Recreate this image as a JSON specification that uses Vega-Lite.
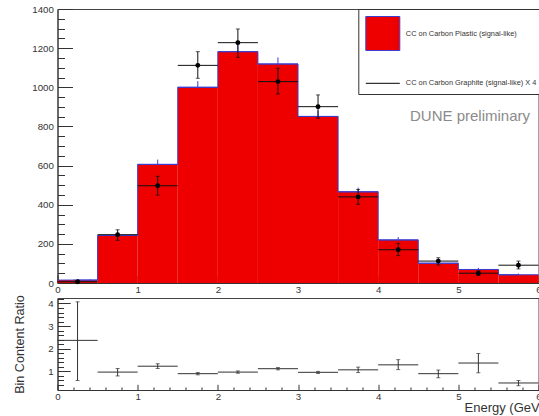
{
  "$schema": "https://vega.github.io/schema/vega-lite/v6.json",
  "autosize": {"type": "none"},
  "padding": {"left": 57.5, "top": 9, "right": 0, "bottom": 407},
  "spacing": 15,
  "bounds": "flush",
  "datasets": {
    "hist": [
      {"lo": 0, "hi": 0.5, "c": 0.25, "n": 15, "nhi": 19, "label": "CC on Carbon Plastic (signal-like)"},
      {"lo": 0.5, "hi": 1, "c": 0.75, "n": 243, "nhi": 258.6, "label": "CC on Carbon Plastic (signal-like)"},
      {"lo": 1, "hi": 1.5, "c": 1.25, "n": 606, "nhi": 630.6, "label": "CC on Carbon Plastic (signal-like)"},
      {"lo": 1.5, "hi": 2, "c": 1.75, "n": 1000, "nhi": 1031.6, "label": "CC on Carbon Plastic (signal-like)"},
      {"lo": 2, "hi": 2.5, "c": 2.25, "n": 1182, "nhi": 1216.4, "label": "CC on Carbon Plastic (signal-like)"},
      {"lo": 2.5, "hi": 3, "c": 2.75, "n": 1119, "nhi": 1152.5, "label": "CC on Carbon Plastic (signal-like)"},
      {"lo": 3, "hi": 3.5, "c": 3.25, "n": 851, "nhi": 880.2, "label": "CC on Carbon Plastic (signal-like)"},
      {"lo": 3.5, "hi": 4, "c": 3.75, "n": 466, "nhi": 487.6, "label": "CC on Carbon Plastic (signal-like)"},
      {"lo": 4, "hi": 4.5, "c": 4.25, "n": 220, "nhi": 234.8, "label": "CC on Carbon Plastic (signal-like)"},
      {"lo": 4.5, "hi": 5, "c": 4.75, "n": 101, "nhi": 111, "label": "CC on Carbon Plastic (signal-like)"},
      {"lo": 5, "hi": 5.5, "c": 5.25, "n": 69, "nhi": 77.3, "label": "CC on Carbon Plastic (signal-like)"},
      {"lo": 5.5, "hi": 6, "c": 5.75, "n": 42, "nhi": 48.5, "label": "CC on Carbon Plastic (signal-like)"}
    ],
    "graphite": [
      {"lo": 0, "hi": 0.5, "c": 0.25, "v": 6.5, "vlo": 1, "vhi": 12},
      {"lo": 0.5, "hi": 1, "c": 0.75, "v": 247, "vlo": 218, "vhi": 272},
      {"lo": 1, "hi": 1.5, "c": 1.25, "v": 497, "vlo": 449, "vhi": 545},
      {"lo": 1.5, "hi": 2, "c": 1.75, "v": 1112, "vlo": 1046, "vhi": 1182},
      {"lo": 2, "hi": 2.5, "c": 2.25, "v": 1228, "vlo": 1153, "vhi": 1298},
      {"lo": 2.5, "hi": 3, "c": 2.75, "v": 1029, "vlo": 966, "vhi": 1097},
      {"lo": 3, "hi": 3.5, "c": 3.25, "v": 901, "vlo": 842, "vhi": 961},
      {"lo": 3.5, "hi": 4, "c": 3.75, "v": 440, "vlo": 402, "vhi": 478},
      {"lo": 4, "hi": 4.5, "c": 4.25, "v": 170, "vlo": 140, "vhi": 203},
      {"lo": 4.5, "hi": 5, "c": 4.75, "v": 112, "vlo": 92, "vhi": 129},
      {"lo": 5, "hi": 5.5, "c": 5.25, "v": 50, "vlo": 38, "vhi": 62},
      {"lo": 5.5, "hi": 6, "c": 5.75, "v": 91, "vlo": 72, "vhi": 112}
    ],
    "ratio": [
      {"lo": 0, "hi": 0.5, "c": 0.25, "r": 2.37, "rlo": 0.6, "rhi": 4.07},
      {"lo": 0.5, "hi": 1, "c": 0.75, "r": 0.97, "rlo": 0.8, "rhi": 1.13},
      {"lo": 1, "hi": 1.5, "c": 1.25, "r": 1.23, "rlo": 1.13, "rhi": 1.34},
      {"lo": 1.5, "hi": 2, "c": 1.75, "r": 0.9, "rlo": 0.85, "rhi": 0.95},
      {"lo": 2, "hi": 2.5, "c": 2.25, "r": 0.97, "rlo": 0.92, "rhi": 1.02},
      {"lo": 2.5, "hi": 3, "c": 2.75, "r": 1.12, "rlo": 1.07, "rhi": 1.17},
      {"lo": 3, "hi": 3.5, "c": 3.25, "r": 0.96, "rlo": 0.91, "rhi": 1.0},
      {"lo": 3.5, "hi": 4, "c": 3.75, "r": 1.07, "rlo": 0.95, "rhi": 1.19},
      {"lo": 4, "hi": 4.5, "c": 4.25, "r": 1.29, "rlo": 1.08, "rhi": 1.52},
      {"lo": 4.5, "hi": 5, "c": 4.75, "r": 0.9, "rlo": 0.72, "rhi": 1.06},
      {"lo": 5, "hi": 5.5, "c": 5.25, "r": 1.37, "rlo": 0.94, "rhi": 1.79},
      {"lo": 5.5, "hi": 6, "c": 5.75, "r": 0.49, "rlo": 0.37, "rhi": 0.6}
    ],
    "notes": [
      {"note": "DUNE preliminary"}
    ]
  },
  "vconcat": [
    {
      "width": 481,
      "height": 274,
      "resolve": {"axis": {"x": "independent", "y": "independent"}},
      "layer": [
        {
          "data": {"name": "hist"},
          "mark": {"type": "bar", "strokeWidth": 0},
          "encoding": {
            "x": {"field": "lo", "type": "quantitative", "scale": {"domain": [0, 6], "nice": false, "zero": false},
                  "axis": {"orient": "bottom", "values": [0, 1, 2, 3, 4, 5, 6], "tickSize": -8, "labelPadding": 9.5, "title": null, "format": "d", "labelFlush": false}},
            "x2": {"field": "hi"},
            "y": {"field": "n", "type": "quantitative", "scale": {"domain": [0, 1400], "nice": false},
                  "axis": {"orient": "left", "values": [0, 200, 400, 600, 800, 1000, 1200, 1400], "tickSize": -15, "labelPadding": 19.2, "title": null, "format": "d", "labelFlush": false}},
            "y2": {"datum": 0},
            "color": {"field": "label", "type": "nominal",
                      "scale": {"domain": ["CC on Carbon Plastic (signal-like)", "CC on Carbon Graphite (signal-like) X 4"], "range": ["#ee0000", "#000000"]},
                      "legend": {"orient": "none", "legendX": 300.8, "legendY": 0, "title": null, "padding": 7, "strokeColor": "#333", "fillColor": "white",
                                 "symbolSize": 1156, "rowPadding": 12.8, "labelOffset": 5.5, "labelFontSize": 7.4, "labelFont": "Liberation Sans", "labelColor": "#333", "labelLimit": 300,
                                 "direction": "vertical", "symbolStrokeWidth": 1,
                                 "encode": {"symbols": {"update": {
                                   "shape": {"signal": "datum.value === 'CC on Carbon Plastic (signal-like)' ? 'square' : 'stroke'"},
                                   "fill": {"signal": "datum.value === 'CC on Carbon Plastic (signal-like)' ? '#ee0000' : 'transparent'"},
                                   "stroke": {"signal": "datum.value === 'CC on Carbon Plastic (signal-like)' ? '#3c3cd0' : '#000000'"},
                                   "strokeWidth": {"value": 1},
                                   "opacity": {"value": 1}
                                 }}}}}
          }
        },
        {
          "data": {"name": "hist"},
          "mark": {"type": "rule", "color": "#3c3cd0", "strokeWidth": 1},
          "encoding": {
            "x": {"field": "lo", "type": "quantitative", "axis": {"orient": "bottom", "values": [0.2,0.4,0.6,0.8,1.2,1.4,1.6,1.8,2.2,2.4,2.6,2.8,3.2,3.4,3.6,3.8,4.2,4.4,4.6,4.8,5.2,5.4,5.6,5.8], "tickSize": -4, "labels": false, "domain": false, "title": null}},
            "x2": {"field": "hi"},
            "y": {"field": "n", "type": "quantitative", "axis": {"orient": "left", "values": [50,100,150,250,300,350,450,500,550,650,700,750,850,900,950,1050,1100,1150,1250,1300,1350], "tickSize": -7, "labels": false, "domain": false, "title": null}}
          }
        },
        {
          "data": {"name": "hist"},
          "mark": {"type": "line", "interpolate": "step", "color": "#3c3cd0", "strokeWidth": 1},
          "encoding": {
            "x": {"field": "c", "type": "quantitative", "axis": null},
            "y": {"field": "n", "type": "quantitative", "axis": null}
          }
        },
        {
          "data": {"name": "hist"},
          "mark": {"type": "rule", "color": "#3c3cd0", "strokeWidth": 1},
          "encoding": {
            "x": {"field": "c", "type": "quantitative", "axis": null},
            "y": {"field": "n", "type": "quantitative", "axis": null},
            "y2": {"field": "nhi"}
          }
        },
        {
          "data": {"name": "graphite"},
          "mark": {"type": "rule", "color": "#111", "strokeWidth": 1},
          "encoding": {
            "x": {"field": "lo", "type": "quantitative", "axis": null},
            "x2": {"field": "hi"},
            "y": {"field": "v", "type": "quantitative", "axis": null}
          }
        },
        {
          "data": {"name": "graphite"},
          "mark": {"type": "rule", "color": "#111", "strokeWidth": 1},
          "encoding": {
            "x": {"field": "c", "type": "quantitative", "axis": null},
            "y": {"field": "vlo", "type": "quantitative", "axis": null},
            "y2": {"field": "vhi"}
          }
        },
        {
          "data": {"name": "graphite"},
          "mark": {"type": "tick", "orient": "horizontal", "color": "#111", "size": 4, "thickness": 1},
          "encoding": {
            "x": {"field": "c", "type": "quantitative", "axis": null},
            "y": {"field": "vlo", "type": "quantitative", "axis": null}
          }
        },
        {
          "data": {"name": "graphite"},
          "mark": {"type": "tick", "orient": "horizontal", "color": "#111", "size": 4, "thickness": 1},
          "encoding": {
            "x": {"field": "c", "type": "quantitative", "axis": null},
            "y": {"field": "vhi", "type": "quantitative", "axis": null}
          }
        },
        {
          "data": {"name": "graphite"},
          "mark": {"type": "point", "filled": true, "shape": "circle", "color": "#000", "size": 24, "opacity": 1},
          "encoding": {
            "x": {"field": "c", "type": "quantitative", "axis": null},
            "y": {"field": "v", "type": "quantitative", "axis": null}
          }
        },
        {
          "data": {"name": "notes"},
          "mark": {"type": "text", "align": "right", "baseline": "middle", "dx": -8.5, "fontSize": 15, "font": "Liberation Sans", "color": "#8a8a8a"},
          "encoding": {
            "x": {"datum": 6, "type": "quantitative", "axis": null},
            "y": {"datum": 853, "type": "quantitative", "axis": null},
            "text": {"field": "note"}
          }
        }
      ]
    },
    {
      "width": 481,
      "height": 92,
      "resolve": {"axis": {"x": "independent", "y": "independent"}},
      "data": {"name": "ratio"},
      "layer": [
        {
          "mark": {"type": "rule", "color": "#333", "strokeWidth": 1},
          "encoding": {
            "x": {"field": "lo", "type": "quantitative", "scale": {"domain": [0, 6], "nice": false, "zero": false},
                  "axis": {"orient": "bottom", "values": [0, 1, 2, 3, 4, 5, 6], "tickSize": -5.7, "labelPadding": 7.2, "format": "d", "labelFlush": false,
                           "title": "Energy (GeV)", "titleFontSize": 13, "titleAnchor": "end", "titleAlign": "right", "titleX": 486, "titleY": 17.5, "titleBaseline": "middle"}},
            "x2": {"field": "hi"},
            "y": {"field": "r", "type": "quantitative", "scale": {"domain": [0.18, 4.24], "nice": false, "zero": false},
                  "axis": {"orient": "left", "values": [1, 2, 3, 4], "tickSize": -12.7, "labelPadding": 17, "format": "d", "labelFlush": false,
                           "title": "Bin Content Ratio", "titleFontSize": 12.6, "titleX": -38.5, "titleBaseline": "middle"}}
          }
        },
        {
          "mark": {"type": "rule", "color": "#333", "strokeWidth": 1},
          "encoding": {
            "x": {"field": "c", "type": "quantitative", "axis": {"orient": "bottom", "values": [0.2,0.4,0.6,0.8,1.2,1.4,1.6,1.8,2.2,2.4,2.6,2.8,3.2,3.4,3.6,3.8,4.2,4.4,4.6,4.8,5.2,5.4,5.6,5.8], "tickSize": -3, "labels": false, "domain": false, "title": null}},
            "y": {"field": "rlo", "type": "quantitative", "axis": {"orient": "left", "values": [0.2,0.4,0.6,0.8,1.2,1.4,1.6,1.8,2.2,2.4,2.6,2.8,3.2,3.4,3.6,3.8,4.2], "tickSize": -6, "labels": false, "domain": false, "title": null}},
            "y2": {"field": "rhi"}
          }
        },
        {
          "mark": {"type": "tick", "orient": "horizontal", "color": "#333", "size": 4, "thickness": 1},
          "encoding": {
            "x": {"field": "c", "type": "quantitative", "axis": null},
            "y": {"field": "rlo", "type": "quantitative", "axis": null}
          }
        },
        {
          "mark": {"type": "tick", "orient": "horizontal", "color": "#333", "size": 4, "thickness": 1},
          "encoding": {
            "x": {"field": "c", "type": "quantitative", "axis": null},
            "y": {"field": "rhi", "type": "quantitative", "axis": null}
          }
        }
      ]
    }
  ],
  "config": {
    "view": {"stroke": "#444", "strokeWidth": 1},
    "axis": {"labelFont": "Liberation Sans", "titleFont": "Liberation Sans", "labelColor": "#333", "titleColor": "#333", "domainColor": "#333", "tickColor": "#333", "grid": false, "labelFontSize": 9.7, "titleFontWeight": "normal"}
  }
}
